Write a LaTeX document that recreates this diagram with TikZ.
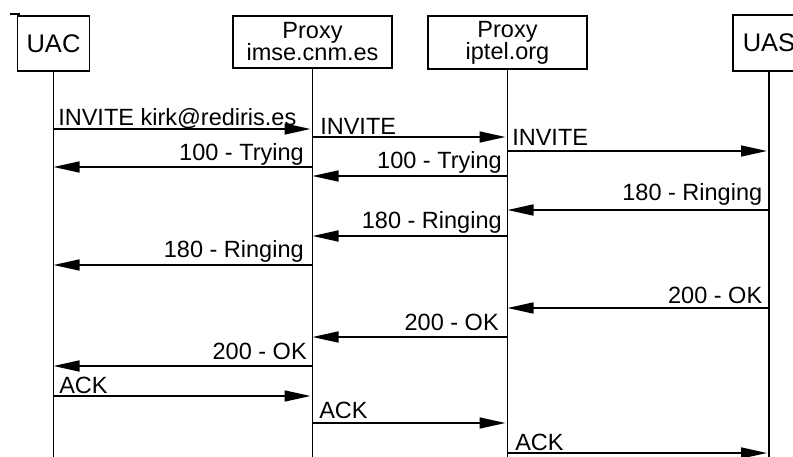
\documentclass[tikz,border=0pt]{standalone}
\usepackage{fontspec}
\setmainfont{Liberation Sans}
\usetikzlibrary{arrows.meta}
\begin{document}
\begin{tikzpicture}[x=1pt,y=-1pt,
  party/.style={draw,line width=1.6pt,fill=white,inner sep=0pt,align=center},
  lifeline/.style={line width=1.6pt},
  msg/.style={line width=1.6pt,-{Triangle[length=26pt,width=11pt]}},
  msgr/.style={msg,shorten >=2pt},
  lbl/.style={inner sep=0pt,font=\fontsize{23.5}{24}\selectfont}]
\useasboundingbox (0,0) rectangle (793,456);
\clip (0,0) rectangle (793,456);
\fill[white] (0,0) rectangle (793,456);
% stray mark
\draw[line width=1.2pt] (10,14) -- (20,14);
% parties
\node[party,minimum width=72pt,minimum height=55pt,font=\fontsize{25.5}{26}\selectfont] (uac) at (53.5,43.5) {UAC};
\node[party,minimum width=159pt,minimum height=52pt,font=\fontsize{23.5}{24}\selectfont] (imse) at (312.5,42) {Proxy\\[-2pt]imse.cnm.es};
\node[party,minimum width=159pt,minimum height=53pt,font=\fontsize{23.5}{24}\selectfont] (iptel) at (507.5,42.5) {Proxy\\[-2pt]iptel.org};
\node[party,minimum width=72pt,minimum height=56pt,font=\fontsize{25.5}{26}\selectfont] (uas) at (769,43) {UAS};
% lifelines
\coordinate (bot) at (0,460);
\draw[lifeline] (uac.south) -- (uac |- bot);
\draw[lifeline] (imse.south) -- (imse |- bot);
\draw[lifeline] (iptel.south) -- (iptel |- bot);
\draw[lifeline] (uas.south) -- (uas |- bot);
% y levels
\coordinate (m1) at (0,129);
\coordinate (m2) at (0,167);
\coordinate (m3) at (0,137);
\coordinate (m4) at (0,151);
\coordinate (m5) at (0,176);
\coordinate (m6) at (0,210);
\coordinate (m7) at (0,236);
\coordinate (m8) at (0,265);
\coordinate (m9) at (0,308);
\coordinate (m10) at (0,337);
\coordinate (m11) at (0,366);
\coordinate (m12) at (0,396);
\coordinate (m13) at (0,423);
\coordinate (m14) at (0,453);
% messages
\draw[msgr] (uac |- m1) -- node[lbl,pos=0,anchor=base west,xshift=4pt,yshift=4pt] (t1) {INVITE kirk@rediris.es} (imse |- m1);
\draw[msgr] (imse |- m3) -- node[lbl,pos=0,anchor=base west,xshift=7pt,yshift=3pt] (t3) {INVITE} (iptel |- m3);
\draw[msgr] (iptel |- m4) -- node[lbl,pos=0,anchor=base west,xshift=4pt,yshift=6pt] (t4) {INVITE} (uas |- m4);
\draw[msg] (imse |- m2) -- node[lbl,pos=0,anchor=base east,xshift=-8pt,yshift=7pt] (t2) {100 - Trying} (uac |- m2);
\draw[msg] (iptel |- m5) -- node[lbl,pos=0,anchor=base east,xshift=-5pt,yshift=8pt] (t5) {100 - Trying} (imse |- m5);
\draw[msg] (uas |- m6) -- node[lbl,pos=0,anchor=base east,xshift=-6pt,yshift=10pt] (t6) {180 - Ringing} (iptel |- m6);
\draw[msg] (iptel |- m7) -- node[lbl,pos=0,anchor=base east,xshift=-5pt,yshift=8pt] (t7) {180 - Ringing} (imse |- m7);
\draw[msg] (imse |- m8) -- node[lbl,pos=0,anchor=base east,xshift=-8pt,yshift=8pt] (t8) {180 - Ringing} (uac |- m8);
\draw[msg] (uas |- m9) -- node[lbl,pos=0,anchor=base east,xshift=-6pt,yshift=5pt] (t9) {200 - OK} (iptel |- m9);
\draw[msg] (iptel |- m10) -- node[lbl,pos=0,anchor=base east,xshift=-8pt,yshift=7pt] (t10) {200 - OK} (imse |- m10);
\draw[msg] (imse |- m11) -- node[lbl,pos=0,anchor=base east,xshift=-5pt,yshift=7pt] (t11) {200 - OK} (uac |- m11);
\draw[msgr] (uac |- m12) -- node[lbl,pos=0,anchor=base west,xshift=5pt,yshift=3pt] (t12) {ACK} (imse |- m12);
\draw[msgr] (imse |- m13) -- node[lbl,pos=0,anchor=base west,xshift=6pt,yshift=5pt] (t13) {ACK} (iptel |- m13);
\draw[msgr] (iptel |- m14) -- node[lbl,pos=0,anchor=base west,xshift=7pt,yshift=3pt] (t14) {ACK} (uas |- m14);
\end{tikzpicture}
\end{document}
